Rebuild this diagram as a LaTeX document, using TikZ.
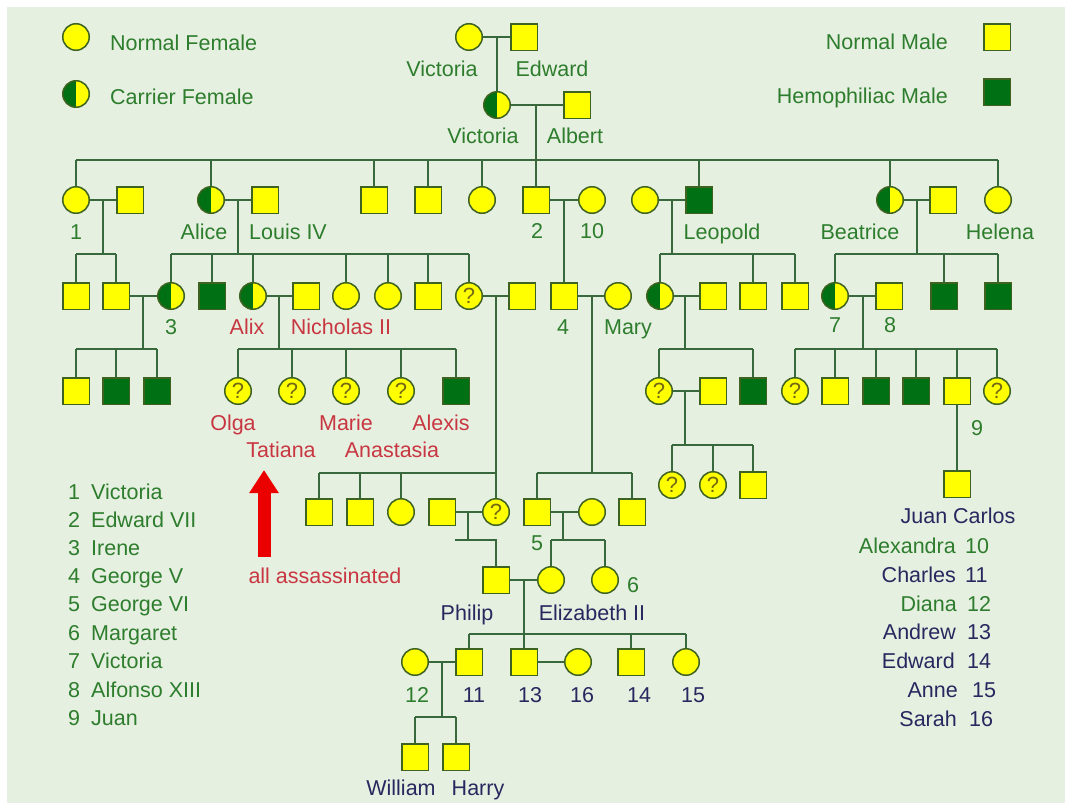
\documentclass[tikz,border=0pt]{standalone}
\usepackage{fontspec}
\setmainfont{Liberation Sans}
\usetikzlibrary{arrows.meta}
\definecolor{bgc}{RGB}{230,240,225}
\definecolor{yel}{RGB}{255,255,0}
\definecolor{hemo}{RGB}{0,112,20}
\definecolor{symc}{RGB}{62,98,32}
\definecolor{linc}{RGB}{55,105,60}
\definecolor{tgc}{RGB}{45,125,45}
\definecolor{trc}{RGB}{200,55,65}
\definecolor{tnc}{RGB}{40,40,95}
\definecolor{qmc}{RGB}{115,105,20}
\definecolor{arrc}{RGB}{235,0,0}
\newcommand\lblfont{\fontsize{21.5}{24}\selectfont}
\newcommand\qmfont{\fontsize{22}{22}\selectfont}
\begin{document}
\begin{tikzpicture}[x=1pt,y=-1pt,
 sym/.style={draw=symc, line width=1.5pt, inner sep=0pt, minimum size=26.5pt},
 msq/.style={sym, rectangle, fill=yel},
 hsq/.style={sym, rectangle, fill=hemo},
 fci/.style={sym, circle, fill=yel},
 cci/.style={fci, path picture={\fill[hemo] (path picture bounding box.south west) rectangle (path picture bounding box.north);}},
 qci/.style={fci, font=\qmfont, text=qmc},
 lnk/.style={draw=linc, line width=1.4pt},
 lbl/.style={font=\lblfont, text=tgc, anchor=base, inner sep=0pt},
 lblr/.style={lbl, text=trc},
 lbln/.style={lbl, text=tnc}]
\useasboundingbox (0,0) rectangle (1065,803);
\fill[white] (0,0) rectangle (1065,803);
\fill[bgc] (7,7) rectangle (1065,803);

% legend
\node[fci] (lnf) at (76,37) {};
\node[cci] (lcf) at (76,94) {};
\node[msq] (lnm) at (997,37) {};
\node[hsq] (lhm) at (997,92) {};
\node[lbl, anchor=base west] (tnf) at (110,50) {Normal Female};
\node[lbl, anchor=base west] (tcf) at (110,104) {Carrier Female};
\node[lbl, anchor=base east] (tnm) at (948,49) {Normal Male};
\node[lbl, anchor=base east] (thm) at (948,103) {Hemophiliac Male};

% generation 0 and 1
\node[fci] (v0) at (469,37) {};
\node[msq] (e0) at (524,37) {};
\coordinate (m0) at (497,37);
\node[cci] (v1) at (497,105) {};
\node[msq] (a1) at (577,105) {};
\draw[lnk] (v0.east) -- (e0.west);
\draw[lnk] (m0) -- (v1.north);
\draw[lnk] (v1.east) -- (a1.west);
\coordinate (m1) at (536,105);
\coordinate (s1) at (536,160);
\node[lbl] at (442,76) {Victoria};
\node[lbl] at (552,76) {Edward};
\node[lbl] at (483,143) {Victoria};
\node[lbl] at (575,143) {Albert};

% generation 2
\node[fci] (g2a) at (76,200) {};
\node[msq] (g2b) at (130,200) {};
\node[cci] (alice) at (211,200) {};
\node[msq] (louis) at (265,200) {};
\node[msq] (g2c) at (374,200) {};
\node[msq] (g2d) at (428,200) {};
\node[fci] (g2e) at (482,200) {};
\node[msq] (ed7) at (536,200) {};
\node[fci] (alx) at (592,200) {};
\node[fci] (g2f) at (645,200) {};
\node[hsq] (leo) at (699,200) {};
\node[cci] (bea) at (890,200) {};
\node[msq] (g2g) at (943,200) {};
\node[fci] (hel) at (998,200) {};
\draw[lnk] (m1) -- (ed7.north);
\draw[lnk] (g2a.north |- s1) -- (hel.north |- s1);
\foreach \n in {g2a,alice,g2c,g2d,g2e,leo,bea,hel} \draw[lnk] (\n.north) -- (\n.north |- s1);
\node[lbl] at (76,239) {1};
\node[lbl] at (204,239) {Alice};
\node[lbl] at (288,239) {Louis IV};
\node[lbl] at (537,238) {2};
\node[lbl] at (592,238) {10};
\node[lbl] at (722,239) {Leopold};
\node[lbl] at (860,239) {Beatrice};
\node[lbl] at (1000,239) {Helena};

% generation 3
\node[msq] (g3a) at (76,296) {};
\node[msq] (g3b) at (116,296) {};
\node[cci] (irene) at (171,296) {};
\node[hsq] (g3c) at (212,296) {};
\node[cci] (alix) at (253,296) {};
\node[msq] (nich) at (306,296) {};
\node[fci] (g3d) at (346,296) {};
\node[fci] (g3e) at (388,296) {};
\node[msq] (g3f) at (428,296) {};
\node[qci] (g3g) at (469,296) {?};
\node[msq] (g3h) at (522,296) {};
\node[msq] (geo5) at (564,296) {};
\node[fci] (mary) at (618,296) {};
\node[cci] (g3i) at (660,296) {};
\node[msq] (g3j) at (713,296) {};
\node[msq] (g3k) at (753,296) {};
\node[msq] (g3l) at (795,296) {};
\node[cci] (vic7) at (835,296) {};
\node[msq] (alf) at (889,296) {};
\node[hsq] (g3m) at (944,296) {};
\node[hsq] (g3n) at (998,296) {};

% gen 2 marriages
\draw[lnk] (g2a.east) -- (g2b.west);
\coordinate (m2) at (103,200); \coordinate (s2) at (103,254);
\draw[lnk] (m2) -- (s2);
\draw[lnk] (g3a.north |- s2) -- (g3b.north |- s2);
\foreach \n in {g3a,g3b} \draw[lnk] (\n.north) -- (\n.north |- s2);

\draw[lnk] (alice.east) -- (louis.west);
\coordinate (m3) at (238,200); \coordinate (s3) at (238,254);
\draw[lnk] (m3) -- (s3);
\draw[lnk] (irene.north |- s3) -- (g3g.north |- s3);
\foreach \n in {irene,g3c,alix,g3d,g3e,g3f,g3g} \draw[lnk] (\n.north) -- (\n.north |- s3);

\draw[lnk] (ed7.east) -- (alx.west);
\coordinate (m4) at (564,200);
\draw[lnk] (m4) -- (geo5.north);

\draw[lnk] (g2f.east) -- (leo.west);
\coordinate (m5) at (672,200); \coordinate (s5) at (672,254);
\draw[lnk] (m5) -- (s5);
\draw[lnk] (g3i.north |- s5) -- (g3l.north |- s5);
\foreach \n in {g3i,g3k,g3l} \draw[lnk] (\n.north) -- (\n.north |- s5);

\draw[lnk] (bea.east) -- (g2g.west);
\coordinate (m6) at (917,200); \coordinate (s6) at (917,254);
\draw[lnk] (m6) -- (s6);
\draw[lnk] (vic7.north |- s6) -- (g3n.north |- s6);
\foreach \n in {vic7,g3m,g3n} \draw[lnk] (\n.north) -- (\n.north |- s6);

\node[lbl] at (171,334) {3};
\node[lblr] at (247,334) {Alix};
\node[lblr] at (341,334) {Nicholas II};
\node[lbl] at (563,334) {4};
\node[lbl] at (628,334) {Mary};
\node[lbl] at (835,332) {7};
\node[lbl] at (890,332) {8};

% generation 3b
\node[msq] (g4a) at (76,391) {};
\node[hsq] (g4b) at (116,391) {};
\node[hsq] (g4c) at (157,391) {};
\node[qci] (olga) at (238,391) {?};
\node[qci] (tat) at (292,391) {?};
\node[qci] (marie) at (346,391) {?};
\node[qci] (ana) at (401,391) {?};
\node[hsq] (alexis) at (456,391) {};
\node[qci] (g4d) at (659,391) {?};
\node[msq] (g4e) at (713,391) {};
\node[hsq] (g4f) at (753,391) {};
\node[qci] (g4g) at (795,391) {?};
\node[msq] (g4h) at (835,391) {};
\node[hsq] (g4i) at (876,391) {};
\node[hsq] (g4j) at (916,391) {};
\node[msq] (juan) at (957,391) {};
\node[qci] (g4k) at (997,391) {?};

\draw[lnk] (g3b.east) -- (irene.west);
\coordinate (m7) at (143,296); \coordinate (s7) at (143,349);
\draw[lnk] (m7) -- (s7);
\draw[lnk] (g4a.north |- s7) -- (g4c.north |- s7);
\foreach \n in {g4a,g4b,g4c} \draw[lnk] (\n.north) -- (\n.north |- s7);

\draw[lnk] (alix.east) -- (nich.west);
\coordinate (m8) at (279,296); \coordinate (s8) at (279,349);
\draw[lnk] (m8) -- (s8);
\draw[lnk] (olga.north |- s8) -- (alexis.north |- s8);
\foreach \n in {olga,tat,marie,ana,alexis} \draw[lnk] (\n.north) -- (\n.north |- s8);

\draw[lnk] (g3i.east) -- (g3j.west);
\coordinate (m11) at (685,296); \coordinate (s11) at (685,349);
\draw[lnk] (m11) -- (s11);
\draw[lnk] (g4d.north |- s11) -- (g4f.north |- s11);
\foreach \n in {g4d,g4f} \draw[lnk] (\n.north) -- (\n.north |- s11);

\draw[lnk] (vic7.east) -- (alf.west);
\coordinate (m12) at (863,296); \coordinate (s12) at (863,349);
\draw[lnk] (m12) -- (s12);
\draw[lnk] (g4g.north |- s12) -- (g4k.north |- s12);
\foreach \n in {g4g,g4h,g4i,g4j,juan,g4k} \draw[lnk] (\n.north) -- (\n.north |- s12);

\node[lblr] at (233,430) {Olga};
\node[lblr] at (346,430) {Marie};
\node[lblr] at (441,430) {Alexis};
\node[lblr] at (281,457) {Tatiana};
\node[lblr] at (392,457) {Anastasia};
\node[lbl] at (977,435) {9};

% Leopold line, next generation
\node[qci] (g5a) at (672,485) {?};
\node[qci] (g5b) at (713,485) {?};
\node[msq] (g5c) at (753,485) {};
\draw[lnk] (g4d.east) -- (g4e.west);
\coordinate (m13) at (685,391); \coordinate (s13) at (685,445);
\draw[lnk] (m13) -- (s13);
\draw[lnk] (g5a.north |- s13) -- (g5c.north |- s13);
\foreach \n in {g5a,g5b,g5c} \draw[lnk] (\n.north) -- (\n.north |- s13);

% Juan Carlos
\node[msq] (jc) at (957,484) {};
\draw[lnk] (juan.south) -- (jc.north);
\node[lbln] at (958,523) {Juan Carlos};

% generation 4
\node[msq] (g6a) at (319,512) {};
\node[msq] (g6b) at (360,512) {};
\node[fci] (g6c) at (401,512) {};
\node[msq] (g6d) at (442,512) {};
\node[qci] (g6e) at (496,512) {?};
\node[msq] (geo6) at (537,512) {};
\node[fci] (g6f) at (592,512) {};
\node[msq] (g6g) at (632,512) {};

\draw[lnk] (g3g.east) -- (g3h.west);
\coordinate (m9) at (496,296); \coordinate (s9) at (496,473);
\draw[lnk] (m9) -- (g6e.north);
\draw[lnk] (g6a.north |- s9) -- (s9);
\foreach \n in {g6a,g6b,g6c} \draw[lnk] (\n.north) -- (\n.north |- s9);

\draw[lnk] (geo5.east) -- (mary.west);
\coordinate (m10) at (592,296); \coordinate (s10) at (592,473);
\draw[lnk] (m10) -- (s10);
\draw[lnk] (geo6.north |- s10) -- (g6g.north |- s10);
\foreach \n in {geo6,g6g} \draw[lnk] (\n.north) -- (\n.north |- s10);

% generation 5
\node[msq] (phil) at (496,580) {};
\node[fci] (eliz) at (551,580) {};
\node[fci] (marg) at (605,580) {};
\draw[lnk] (g6d.east) -- (g6e.west);
\coordinate (m14) at (468,512); \coordinate (s14) at (468,540); \coordinate (stub) at (455,540);
\draw[lnk] (m14) -- (s14);
\draw[lnk] (stub) -- (s14) -| (phil.north);
\draw[lnk] (geo6.east) -- (g6f.west);
\coordinate (m15) at (563,512); \coordinate (s15) at (563,540);
\draw[lnk] (m15) -- (s15);
\draw[lnk] (eliz.north |- s15) -- (marg.north |- s15);
\foreach \n in {eliz,marg} \draw[lnk] (\n.north) -- (\n.north |- s15);
\node[lbl] at (537,550) {5};
\node[lbl] at (633,592) {6};
\node[lbln] at (467,620) {Philip};
\node[lbln] at (592,620) {Elizabeth II};

% generation 6
\node[fci] (diana) at (415,662) {};
\node[msq] (charles) at (469,662) {};
\node[msq] (andrew) at (524,662) {};
\node[fci] (sarah) at (578,662) {};
\node[msq] (edw) at (631,662) {};
\node[fci] (anne) at (686,662) {};
\draw[lnk] (phil.east) -- (eliz.west);
\coordinate (m16) at (524,580); \coordinate (s16) at (524,634);
\draw[lnk] (m16) -- (andrew.north);
\draw[lnk] (charles.north |- s16) -- (anne.north |- s16);
\foreach \n in {charles,edw,anne} \draw[lnk] (\n.north) -- (\n.north |- s16);
\draw[lnk] (andrew.east) -- (sarah.west);
\node[lbl] at (417,702) {12};
\node[lbln] at (474,702) {11};
\node[lbln] at (530,702) {13};
\node[lbln] at (582,702) {16};
\node[lbln] at (639,702) {14};
\node[lbln] at (693,702) {15};

% generation 7
\node[msq] (will) at (415,757) {};
\node[msq] (harry) at (456,757) {};
\draw[lnk] (diana.east) -- (charles.west);
\coordinate (m17) at (442,662); \coordinate (s17) at (442,717);
\draw[lnk] (m17) -- (s17);
\draw[lnk] (will.north |- s17) -- (harry.north |- s17);
\foreach \n in {will,harry} \draw[lnk] (\n.north) -- (\n.north |- s17);
\node[lbln] at (401,795) {William};
\node[lbln] at (478,795) {Harry};

% red arrow
\coordinate (arrb) at (264,557);
\coordinate (arrt) at (264,470);
\draw[arrc, line width=13pt, -{Triangle[width=28pt,length=23pt]}] (arrb) -- (arrt);
\node[lblr] at (325,583) {all assassinated};

% left key
\foreach \y/\d/\t in {499/1/Victoria, 527/2/Edward VII, 555/3/Irene, 583/4/George V, 611/5/George VI, 640/6/Margaret, 668/7/Victoria, 697/8/Alfonso XIII, 725/9/Juan}{
  \node[lbl, anchor=base west] at (68,\y) {\d};
  \node[lbl, anchor=base west] at (91,\y) {\t};
}

% right key
\node[lbl, anchor=base east] at (956,553) {Alexandra};
\node[lbl, anchor=base west] at (965,553) {10};
\node[lbln, anchor=base east] at (956,582) {Charles};
\node[lbln, anchor=base west] at (965,582) {11};
\node[lbl, anchor=base east] at (957,611) {Diana};
\node[lbl, anchor=base west] at (967,611) {12};
\node[lbln, anchor=base east] at (956,639) {Andrew};
\node[lbln, anchor=base west] at (967,639) {13};
\node[lbln, anchor=base east] at (955,668) {Edward};
\node[lbln, anchor=base west] at (967,668) {14};
\node[lbln, anchor=base east] at (958,697) {Anne};
\node[lbln, anchor=base west] at (972,697) {15};
\node[lbln, anchor=base east] at (957,726) {Sarah};
\node[lbln, anchor=base west] at (969,726) {16};
\end{tikzpicture}
\end{document}
